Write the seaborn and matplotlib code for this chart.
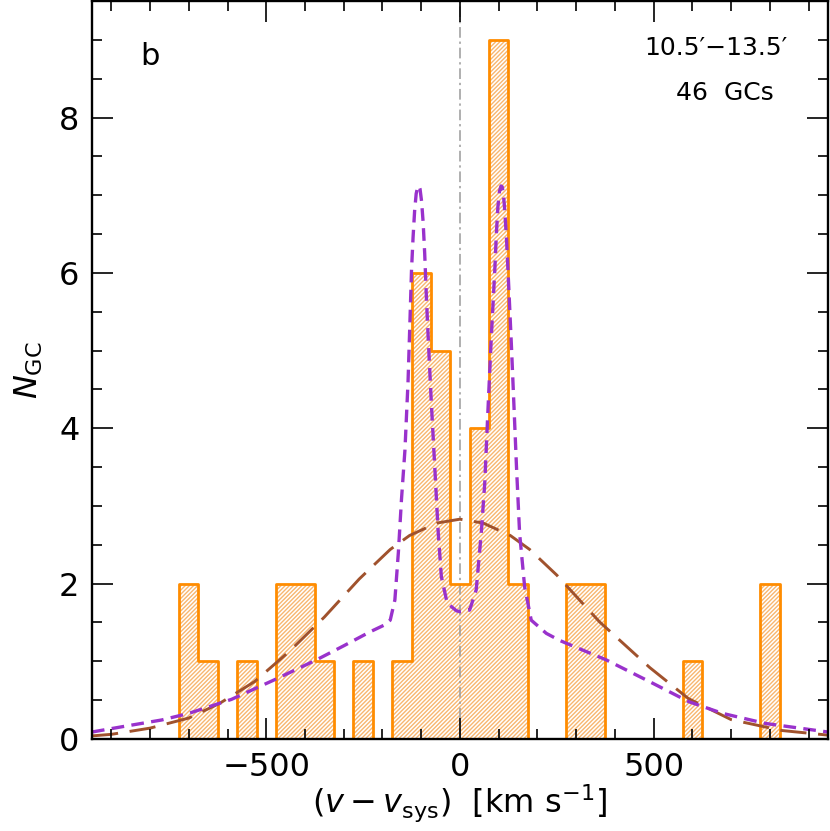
import numpy as np
import pandas as pd
import matplotlib
matplotlib.use("Agg")
import matplotlib.pyplot as plt
from matplotlib.ticker import MultipleLocator
import seaborn as sns

# ------------------------------------
# Data
# ------------------------------------
bin_centers = [-700, -650, -550, -450, -400, -350, -250, -150, -100, -50,
               0, 50, 100, 150, 300, 350, 600, 800]
bin_counts = [2, 1, 1, 2, 2, 1, 1, 1, 6, 5, 2, 4, 9, 2, 2, 2, 1, 2]
bin_width = 50

# broad gaussian (brown long dashes)
gauss_v = [-950, -900, -800, -700, -620, -530, -440, -350, -260, -180, -130,
           -60, 0, 60, 130, 180, 250, 360, 490, 590, 700, 830, 950]
gauss_n = [0.04, 0.06, 0.14, 0.27, 0.46, 0.74, 1.13, 1.57, 2.06, 2.44, 2.62,
           2.78, 2.83, 2.78, 2.62, 2.44, 2.11, 1.51, 0.92, 0.52, 0.25, 0.11, 0.05]

# double-peaked model (purple short dashes)
model_v = [-950, -870, -770, -700, -590, -480, -370, -300, -232, -194, -180,
           -168, -159, -151, -142, -134, -129, -125, -121, -117, -113, -109,
           -106, -103, -99, -95, -91, -86, -80, -74, -65, -56, -48, -33, -9,
           0, 25, 42, 55, 64, 72, 81, 90, 94, 98, 102, 106, 109, 112, 115,
           120, 126, 133, 139, 146, 154, 167, 184, 223, 257, 300, 377, 489,
           591, 678, 789, 950]
model_n = [0.09, 0.16, 0.245, 0.33, 0.51, 0.76, 1.02, 1.20, 1.38, 1.47, 1.53,
           1.79, 2.40, 3.08, 3.72, 4.60, 5.39, 6.04, 6.46, 6.80, 7.02, 7.11,
           7.12, 7.08, 6.92, 6.65, 6.25, 5.61, 4.96, 4.34, 3.50, 2.65, 2.09,
           1.75, 1.65, 1.64, 1.66, 1.92, 2.65, 3.29, 4.20, 5.18, 6.04, 6.50,
           6.85, 7.05, 7.12, 7.11, 7.02, 6.85, 6.46, 5.82, 5.05, 4.34, 3.50,
           2.65, 1.96, 1.53, 1.36, 1.27, 1.18, 1.02, 0.74, 0.48, 0.33, 0.20,
           0.09]

radial_label = "10.5\u2032\u221213.5\u2032"
count_label = "46  GCs"
panel_label = "b"

# ------------------------------------
# Plot
# ------------------------------------
sns.set_theme(style="ticks")
plt.rcParams["font.family"] = ["DejaVu Sans"]
plt.rcParams["hatch.linewidth"] = 1.0
plt.rcParams["text.color"] = "black"
plt.rcParams["axes.labelcolor"] = "black"
plt.rcParams["xtick.color"] = "black"
plt.rcParams["ytick.color"] = "black"

fig = plt.figure(figsize=(8.30, 8.31), dpi=100)
ax = fig.add_axes([0.1108, 0.1107, 0.8867, 0.888])
ax.set_axisbelow(False)

df = pd.DataFrame({"v": bin_centers, "n": bin_counts})
hist_range = (-975, 975)

# hatched fill
sns.histplot(data=df, x="v", weights="n", binwidth=bin_width,
             binrange=hist_range, element="bars", fill=True,
             facecolor="none", edgecolor="#f8b670", linewidth=0,
             hatch="////////", ax=ax)
# outline
sns.histplot(data=df, x="v", weights="n", binwidth=bin_width,
             binrange=hist_range, element="step", fill=False,
             color="#ff8c00", linewidth=2.0, ax=ax)

ax.axvline(0, color="#9a9a9a", linewidth=1.1, linestyle=(0, (7, 2.5, 1.5, 2.5)),
           zorder=1)

sns.lineplot(x=gauss_v, y=gauss_n, color="#a0522d", linewidth=2.1,
             linestyle=(0, (9, 4)), ax=ax, sort=False)
sns.lineplot(x=model_v, y=model_n, color="#9932cc", linewidth=2.4,
             linestyle=(0, (3.8, 2.2)), ax=ax, sort=False)

ax.set_xlim(-950, 950)
ax.set_ylim(0, 9.5)
ax.xaxis.set_major_locator(MultipleLocator(500))
ax.xaxis.set_minor_locator(MultipleLocator(100))
ax.yaxis.set_major_locator(MultipleLocator(2))
ax.yaxis.set_minor_locator(MultipleLocator(0.5))

ax.tick_params(which="both", direction="in", top=True, right=True,
               width=1.2, labelsize=23, pad=9)
ax.tick_params(which="major", length=15)
ax.tick_params(which="minor", length=7.5)
for s in ax.spines.values():
    s.set_linewidth(1.7)
    s.set_color("black")
    s.set_zorder(5)

ax.set_xlabel(r"$(v - v_{\rm sys})$  [km s$^{-1}$]", fontsize=23, labelpad=0)
ax.set_ylabel(r"$N_{\rm GC}$", fontsize=23, labelpad=10)

ax.text(0.079, 0.925, panel_label, transform=ax.transAxes, fontsize=22,
        ha="center", va="center")
ax.text(0.848, 0.937, radial_label, transform=ax.transAxes, fontsize=18,
        ha="center", va="center")
ax.text(0.86, 0.876, count_label, transform=ax.transAxes, fontsize=18,
        ha="center", va="center")

fig.savefig("out.png", dpi=100)
